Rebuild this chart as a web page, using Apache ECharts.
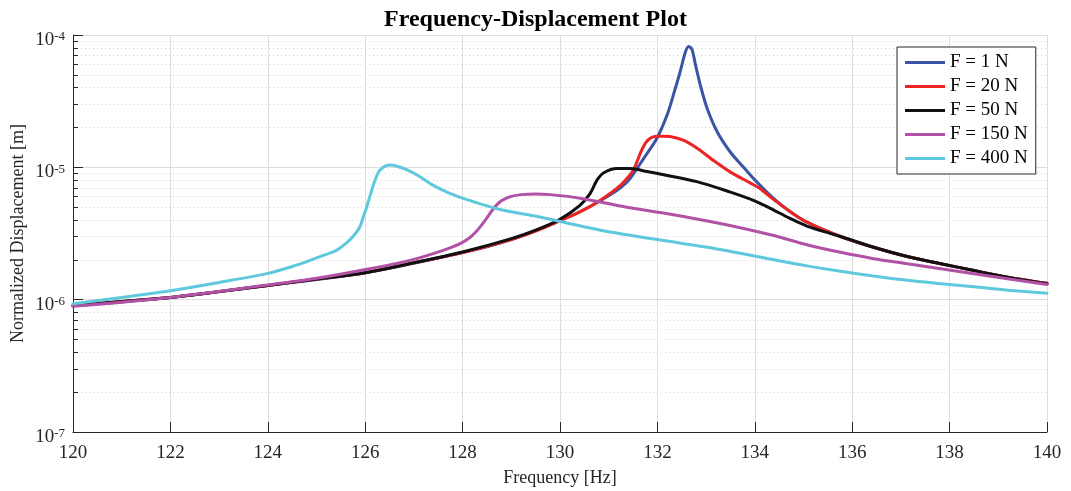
<!DOCTYPE html>
<html>
<head>
<meta charset="utf-8">
<title>Frequency-Displacement Plot</title>
<script src="https://cdn.jsdelivr.net/npm/echarts/dist/echarts.min.js"></script>
<style>
  html, body { margin: 0; padding: 0; background: #ffffff; }
  #chart { width: 1071px; height: 491px; }
</style>
</head>
<body>
<div id="chart"></div>
<script>
// Frequency sweep responses, one pair of arrays per excitation level
const seriesNames = ['F = 1 N', 'F = 20 N', 'F = 50 N', 'F = 150 N', 'F = 400 N'];

const freq1 = [120, 122, 124, 126, 128, 129, 130, 130.5, 131, 131.24, 131.44, 131.72, 131.99, 132.2, 132.33, 132.47, 132.57, 132.64, 132.71, 132.78, 132.88, 133.02, 133.23, 133.5, 133.77, 133.95, 134.11, 134.39, 134.7, 135.07, 135.76, 136.44, 137.13, 137.82, 138.5, 139.19, 140];
const disp1 = [9.0e-7, 1.04e-6, 1.28e-6, 1.6e-6, 2.27e-6, 2.85e-6, 3.95e-6, 4.8e-6, 6.1e-6, 7.0e-6, 8.24e-6, 1.17e-5, 1.66e-5, 2.49e-5, 3.54e-5, 5.32e-5, 7.35e-5, 8.18e-5, 7.78e-5, 6.0e-5, 4.2e-5, 2.8e-5, 1.85e-5, 1.3e-5, 1.0e-5, 8.4e-6, 7.3e-6, 5.8e-6, 4.7e-6, 3.85e-6, 3.0e-6, 2.49e-6, 2.12e-6, 1.87e-6, 1.66e-6, 1.48e-6, 1.33e-6];

const freq20 = [120, 121, 122, 123, 124, 125, 126, 127, 128, 129, 129.5, 130, 130.41, 130.83, 131.24, 131.44, 131.51, 131.58, 131.65, 131.72, 131.8, 131.9, 132.0, 132.13, 132.26, 132.54, 132.81, 133.16, 133.5, 133.91, 134.11, 134.39, 134.7, 135.07, 135.76, 136.44, 137.13, 137.82, 138.5, 139.19, 140];
const disp20 = [9.0e-7, 9.7e-7, 1.04e-6, 1.15e-6, 1.28e-6, 1.43e-6, 1.6e-6, 1.9e-6, 2.27e-6, 2.85e-6, 3.3e-6, 3.95e-6, 4.6e-6, 5.65e-6, 7.3e-6, 8.8e-6, 9.6e-6, 1.1e-5, 1.28e-5, 1.45e-5, 1.6e-5, 1.69e-5, 1.72e-5, 1.72e-5, 1.71e-5, 1.6e-5, 1.4e-5, 1.12e-5, 9.2e-6, 7.6e-6, 6.9e-6, 5.7e-6, 4.7e-6, 3.85e-6, 3.0e-6, 2.49e-6, 2.12e-6, 1.87e-6, 1.66e-6, 1.48e-6, 1.33e-6];

const freq50 = [120, 121, 122, 123, 124, 125, 126, 127, 128, 129, 129.5, 130, 130.41, 130.62, 130.76, 130.9, 131.17, 131.44, 131.79, 132.13, 132.81, 133.5, 133.91, 134.11, 134.39, 134.7, 135.07, 135.76, 136.44, 137.13, 137.82, 138.5, 139.19, 140];
const disp50 = [9.0e-7, 9.7e-7, 1.04e-6, 1.15e-6, 1.28e-6, 1.43e-6, 1.6e-6, 1.9e-6, 2.29e-6, 2.89e-6, 3.35e-6, 4.05e-6, 5.15e-6, 6.35e-6, 8.0e-6, 9.1e-6, 9.8e-6, 9.8e-6, 9.3e-6, 8.8e-6, 7.8e-6, 6.5e-6, 5.75e-6, 5.35e-6, 4.75e-6, 4.15e-6, 3.6e-6, 3.0e-6, 2.49e-6, 2.12e-6, 1.87e-6, 1.66e-6, 1.48e-6, 1.32e-6];

const freq150 = [120, 122, 124, 125, 125.9, 126.92, 127.6, 127.95, 128.15, 128.29, 128.4, 128.5, 128.6, 128.7, 128.8, 128.98, 129.2, 129.5, 129.8, 130.41, 131.37, 132.06, 133, 133.7, 134.39, 135.07, 135.76, 136.44, 137.13, 137.82, 138.5, 139.19, 140];
const disp150 = [8.9e-7, 1.04e-6, 1.29e-6, 1.45e-6, 1.66e-6, 1.98e-6, 2.36e-6, 2.65e-6, 2.95e-6, 3.3e-6, 3.7e-6, 4.15e-6, 4.7e-6, 5.2e-6, 5.6e-6, 6.0e-6, 6.22e-6, 6.3e-6, 6.22e-6, 5.85e-6, 5.0e-6, 4.55e-6, 3.95e-6, 3.5e-6, 3.05e-6, 2.6e-6, 2.28e-6, 2.04e-6, 1.87e-6, 1.71e-6, 1.57e-6, 1.44e-6, 1.30e-6];

const freq400 = [120, 121, 122, 123, 124, 124.5, 124.87, 125.2, 125.41, 125.6, 125.75, 125.89, 125.96, 126.03, 126.1, 126.17, 126.24, 126.3, 126.41, 126.51, 126.65, 126.85, 127.1, 127.4, 127.7, 128.09, 128.77, 129.46, 130.14, 130.83, 132.06, 133, 133.7, 134.39, 135.07, 135.76, 136.44, 137.13, 137.82, 138.5, 139.19, 140];
const disp400 = [9.3e-7, 1.04e-6, 1.17e-6, 1.35e-6, 1.58e-6, 1.78e-6, 1.98e-6, 2.2e-6, 2.36e-6, 2.65e-6, 3.0e-6, 3.54e-6, 4.22e-6, 5.0e-6, 6.1e-6, 7.4e-6, 8.7e-6, 9.5e-6, 1.02e-5, 1.04e-5, 1.02e-5, 9.6e-6, 8.6e-6, 7.3e-6, 6.45e-6, 5.7e-6, 4.8e-6, 4.3e-6, 3.8e-6, 3.35e-6, 2.82e-6, 2.5e-6, 2.24e-6, 2.0e-6, 1.8e-6, 1.64e-6, 1.51e-6, 1.40e-6, 1.32e-6, 1.25e-6, 1.18e-6, 1.12e-6];

const seriesColors = ['#3a55a6', '#ee2424', '#111111', '#b252a6', '#5ec8dc'];

const freqSets = [freq1, freq20, freq50, freq150, freq400];
const dispSets = [disp1, disp20, disp50, disp150, disp400];

const serif = 'Liberation Serif, Times New Roman, serif';
const axisInk = '#262626';

const chart = echarts.init(document.getElementById('chart'), null, { renderer: 'canvas' });

const series = seriesNames.map((name, i) => ({
  name: name,
  type: 'line',
  data: freqSets[i].map((f, k) => [f, dispSets[i][k]]),
  symbol: 'none',
  showSymbol: false,
  smooth: 0.3,
  lineStyle: { color: seriesColors[i], width: 3, join: 'round', cap: 'round' },
  itemStyle: { color: seriesColors[i] },
  emphasis: { disabled: true },
  animation: false
}));

chart.setOption({
  backgroundColor: '#ffffff',
  animation: false,
  title: {
    text: 'Frequency-Displacement Plot',
    left: 'center',
    top: 3,
    textStyle: { fontFamily: serif, fontWeight: 'bold', fontSize: 24, color: '#000000' }
  },
  legend: {
    orient: 'vertical',
    left: 897,
    top: 47,
    icon: 'rect',
    itemWidth: 40,
    itemHeight: 3,
    itemGap: 5,
    padding: [6, 8, 6, 8],
    borderColor: axisInk,
    borderWidth: 1,
    backgroundColor: '#ffffff',
    textStyle: { fontFamily: serif, fontSize: 19, color: '#000000', lineHeight: 19 },
    data: seriesNames
  },
  grid: { left: 73, right: 24, top: 35, bottom: 59, containLabel: false, outerBoundsMode: 'none' },
  xAxis: {
    type: 'value',
    min: 120,
    max: 140,
    interval: 2,
    name: 'Frequency [Hz]',
    nameLocation: 'middle',
    nameGap: 37,
    nameMoveOverlap: false,
    nameTextStyle: { fontFamily: serif, fontSize: 18, color: axisInk },
    axisLine: { show: true, onZero: false, lineStyle: { color: axisInk, width: 1 } },
    axisTick: { show: true, inside: true, length: 10, lineStyle: { color: axisInk } },
    axisLabel: { fontFamily: serif, fontSize: 19, color: axisInk, margin: 12 },
    splitLine: { show: true, lineStyle: { color: '#dedede', width: 1 } }
  },
  yAxis: {
    type: 'log',
    logBase: 10,
    min: 1e-7,
    max: 1e-4,
    name: 'Normalized Displacement [m]',
    nameLocation: 'middle',
    nameGap: 46,
    nameMoveOverlap: false,
    nameTextStyle: { fontFamily: serif, fontSize: 18, color: axisInk },
    axisLine: { show: true, lineStyle: { color: axisInk, width: 1 } },
    axisTick: { show: true, inside: true, length: 10, lineStyle: { color: axisInk } },
    minorTick: { show: true, splitNumber: 9, length: 5, lineStyle: { color: axisInk } },
    axisLabel: {
      fontFamily: serif,
      fontSize: 19,
      color: axisInk,
      margin: 8,
      padding: [10, 0, 0, 0],
      formatter: v => '10{sup|' + Math.round(Math.log10(v)) + '}',
      rich: {
        sup: { fontFamily: serif, fontSize: 13, color: axisInk, verticalAlign: 'top' }
      }
    },
    splitLine: { show: true, lineStyle: { color: '#dedede', width: 1 } },
    minorSplitLine: { show: true, lineStyle: { color: '#d2d2d2', width: 1, type: [1, 3] } }
  },
  series: series
});
</script>
</body>
</html>
